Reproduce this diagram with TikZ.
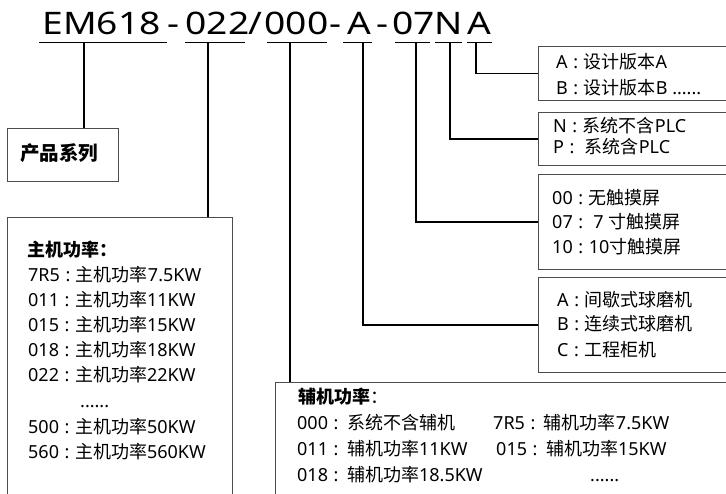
\documentclass[tikz,border=0pt]{standalone}
\usepackage{fontspec}
\setmainfont{Noto Sans}
\newfontfamily\titlefont[FakeStretch=1.2]{Noto Sans}
\newfontfamily\cjk{Noto Sans CJK SC}
\newcommand\zh[1]{{\cjk #1}}
\newcommand\cl{\makebox[16pt]{:}}
\begin{document}
\begin{tikzpicture}[x=1pt,y=-1pt,
  box/.style={draw=black!70,line width=1.1pt,rectangle,anchor=north west,inner sep=0pt},
  conn/.style={draw=black,line width=1.8pt},
  ul/.style={draw=black,line width=1.8pt},
  seg/.style={anchor=base,inner sep=0pt,font=\titlefont\fontsize{31}{31}\selectfont},
  txt/.style={anchor=base west,inner sep=0pt,font=\fontsize{18}{18}\selectfont},
  hdr/.style={anchor=base west,inner sep=0pt,font=\fontsize{19.5}{19.5}\selectfont\bfseries}
]
\clip (0,0) rectangle (726,494);
\fill[white] (0,0) rectangle (726,494);

% title segments
\node[seg] (tEM)  at (101.5,35) {EM618};
\node[seg] (th1)  at (173,35)   {-};
\node[seg] (t022) at (217.5,35) {022};
\node[seg] (tsl)  at (255,35)   {/};
\node[seg] (t000) at (296.5,35) {000};
\node[seg] (th2)  at (335,35)   {-};
\node[seg] (tA1)  at (359.5,35) {A};
\node[seg] (th3)  at (382.5,35) {-};
\node[seg] (t07)  at (413.5,35) {07};
\node[seg] (tN)   at (448.5,35) {N};
\node[seg] (tA2)  at (479.5,35) {A};

% underlines
\draw[ul] (39,42.5) -- (167,42.5);
\draw[ul] (185,42.5) -- (245,42.5);
\draw[ul] (267,42.5) -- (327,42.5);
\draw[ul] (343,42.5) -- (372,42.5);
\draw[ul] (395,42.5) -- (430,42.5);
\draw[ul] (435,42.5) -- (462,42.5);
\draw[ul] (467,42.5) -- (492,42.5);

\coordinate (uEM)  at (84,42.5);
\coordinate (u022) at (208,42.5);
\coordinate (u000) at (290,42.5);
\coordinate (uA1)  at (363,42.5);
\coordinate (u07)  at (416,42.5);
\coordinate (uN)   at (450,42.5);
\coordinate (uA2)  at (476,42.5);

% boxes
\node[box,minimum width=111,minimum height=53] (pbox) at (7,128) {};
\node[box,minimum width=225,minimum height=290] (zbox) at (7,217) {};
\node[box,minimum width=470,minimum height=130] (fbox) at (275,382) {};
\node[box,minimum width=210,minimum height=54] (r1) at (538,46) {};
\node[box,minimum width=210,minimum height=53] (r2) at (538,112) {};
\node[box,minimum width=210,minimum height=95] (r3) at (538,174) {};
\node[box,minimum width=210,minimum height=95] (r4) at (538,277) {};

% connectors
\draw[conn] (uEM) -- (uEM |- pbox.north);
\draw[conn] (u022) -- (u022 |- zbox.north);
\draw[conn] (u000) -- (u000 |- fbox.north);
\draw[conn] (uA1) |- (r4.west);
\draw[conn] (u07) |- (r3.west);
\draw[conn] (uN) |- (r2.west);
\draw[conn] (uA2) |- (r1.west);

% product series
\node[hdr] (pt) at (20,161) {\zh{产品系列}};

% main power box
\node[txt] (z0) at (27,257) {\zh{\bfseries 主机功率：}};
\node[txt] (z1) at (28,282) {7R5\cl\zh{主机功率}7.5KW};
\node[txt] (z2) at (28,307) {011\cl\zh{主机功率}11KW};
\node[txt] (z3) at (28,332) {015\cl\zh{主机功率}15KW};
\node[txt] (z4) at (28,357) {018\cl\zh{主机功率}18KW};
\node[txt] (z5) at (28,382) {022\cl\zh{主机功率}22KW};
\node[txt] (z6) at (80,407) {......};
\node[txt] (z7) at (28,433) {500\cl\zh{主机功率}50KW};
\node[txt] (z8) at (28,458) {560\cl\zh{主机功率}560KW};

% aux power box
\node[txt] (f0) at (298,403) {\zh{{\bfseries 辅机功率}：}};
\node[txt] (f1) at (297,429) {000\cl\,\zh{系统不含辅机}};
\node[txt] (f2) at (493,429) {7R5\cl\,\zh{辅机功率}7.5KW};
\node[txt] (f3) at (297,455) {011\cl\,\zh{辅机功率}11KW};
\node[txt] (f4) at (496,455) {015\cl\,\zh{辅机功率}15KW};
\node[txt] (f5) at (297,481) {018\cl\,\zh{辅机功率}18.5KW};
\node[txt] (f6) at (590,481) {......};

% right boxes
\node[txt] (a1) at (556,69) {A\cl\zh{设计版本}A};
\node[txt] (a2) at (556,95) {B\cl\zh{设计版本}B ......};
\node[txt] (n1) at (553,133) {N\cl\zh{系统不含}PLC};
\node[txt] (n2) at (553,154) {P\cl\ \zh{系统含}PLC};
\node[txt] (s1) at (552,205) {00\cl\zh{无触摸屏}};
\node[txt] (s2) at (552,229) {07\cl\ 7 \zh{寸触摸屏}};
\node[txt] (s3) at (552,254) {10\cl 10\zh{寸触摸屏}};
\node[txt] (m1) at (557,307) {A\cl\zh{间歇式球磨机}};
\node[txt] (m2) at (557,331) {B\cl\zh{连续式球磨机}};
\node[txt] (m3) at (557,357) {C\cl\zh{工程柜机}};
\end{tikzpicture}
\end{document}
